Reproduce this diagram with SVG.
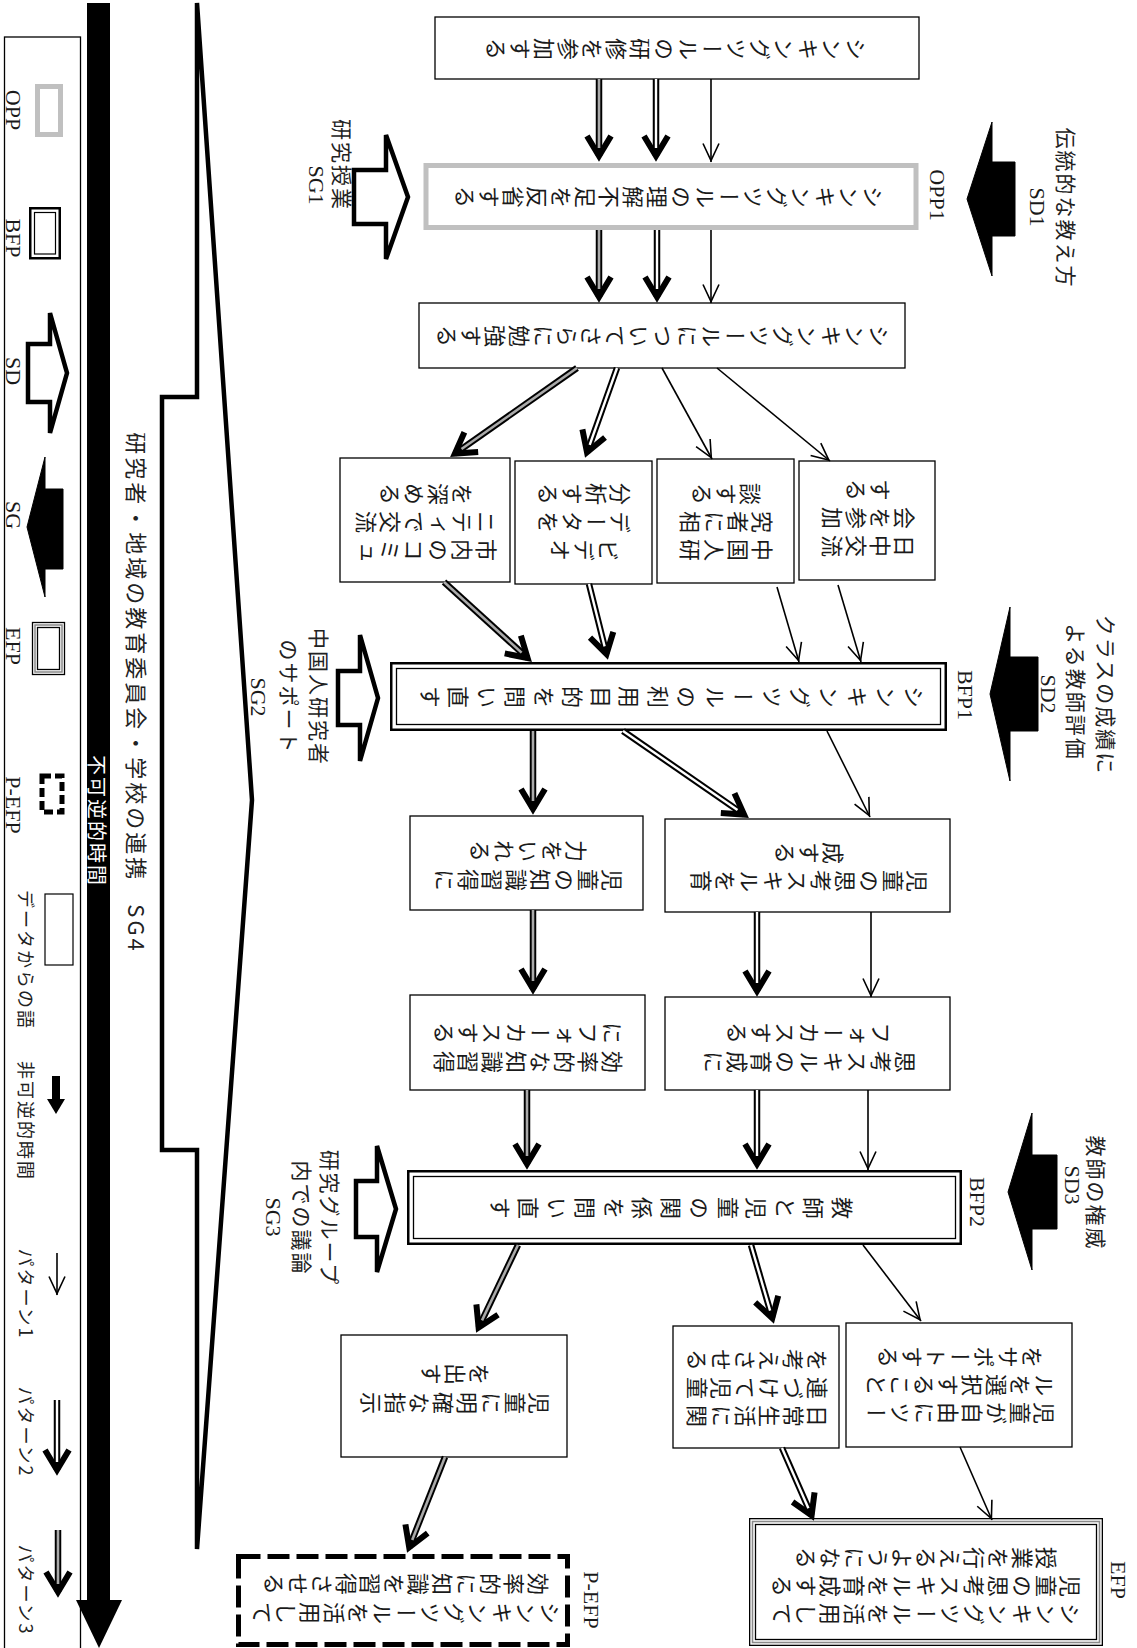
<svg xmlns="http://www.w3.org/2000/svg" width="1137" height="1648" viewBox="0 0 1137 1648">
<defs>
<style>
.bx{fill:#fff;stroke:#000;stroke-width:1.3}
.bt{font-family:"Noto Sans CJK JP",sans-serif;font-size:22px;writing-mode:vertical-rl;text-anchor:middle;fill:#1a1a1a;letter-spacing:2px}
.bw{letter-spacing:6.5px}
.lb{font-family:"Liberation Serif","Noto Sans CJK JP",serif;font-size:22px;text-anchor:middle;dominant-baseline:central;fill:#1a1a1a}
.lj{font-family:"Noto Sans CJK JP",sans-serif;font-size:21px;letter-spacing:2px;text-anchor:middle;dominant-baseline:central;fill:#222}
.lg{font-family:"Noto Sans CJK JP",sans-serif;font-size:18px;letter-spacing:2px;text-anchor:middle;dominant-baseline:central;fill:#222}
.p1{stroke:#000;stroke-width:1.6;fill:none;marker-end:url(#m1)}
.k{stroke:#000;stroke-width:6.5;fill:none;marker-end:url(#m2)}
.w{stroke:#fff;stroke-width:2.4;fill:none}
.g{stroke:#aaa;stroke-width:2.6;fill:none}
.sd{fill:#000;stroke:#000;stroke-width:1}
.sg{fill:#fff;stroke:#000;stroke-width:4.5;stroke-linejoin:miter}
.nb{fill:none;stroke:#000}
</style>
<marker id="m1" markerUnits="userSpaceOnUse" markerWidth="40" markerHeight="40" refX="1.5" refY="0" orient="auto" overflow="visible"><path d="M-17,-8 L0,0 L-17,8" fill="none" stroke="#000" stroke-width="1.6"/></marker>
<marker id="m2" markerUnits="userSpaceOnUse" markerWidth="40" markerHeight="40" refX="0" refY="0" orient="auto" overflow="visible"><path d="M-20,-12 L0,0 L-20,12" fill="none" stroke="#000" stroke-width="6"/></marker>
</defs>
<rect width="1137" height="1648" fill="#fff"/>

<!-- legend -->
<g id="legend">
<rect x="4.5" y="37" width="76" height="1620" class="nb" stroke-width="1.3"/>
<rect x="37.5" y="86.5" width="23" height="48" fill="none" stroke="#c0c0c0" stroke-width="5"/>
<text class="lb" transform="translate(13,110) rotate(90)">OPP</text>
<rect x="30.25" y="208.25" width="29.5" height="50" class="nb" stroke-width="2.5"/>
<rect x="34.5" y="212.5" width="21" height="41.5" class="nb" stroke-width="1.2"/>
<text class="lb" transform="translate(13,238) rotate(90)">BFP</text>
<polygon class="sg" stroke-width="4" points="28,344 50,344 50,313 67,373 50,433 50,402 28,402"/>
<text class="lb" transform="translate(13,371) rotate(90)">SD</text>
<polygon class="sd" points="27,527 45,457 45,489 63,489 63,569 45,569 45,597"/>
<text class="lb" transform="translate(13,515) rotate(90)">SG</text>
<rect x="32.5" y="622.5" width="32" height="52" class="nb" stroke-width="1.3"/>
<rect x="35" y="625" width="27" height="47" fill="none" stroke="#888" stroke-width="1.5"/>
<rect x="37.5" y="627.5" width="22" height="42" class="nb" stroke-width="1.3"/>
<text class="lb" transform="translate(13,646) rotate(90)">EFP</text>
<rect x="42" y="776" width="20" height="36" class="nb" stroke-width="5" stroke-dasharray="9,4"/>
<text class="lb" transform="translate(13,805) rotate(90)">P-EFP</text>
<rect x="45" y="894" width="28" height="71" class="nb" stroke-width="1.2"/>
<text class="lg" transform="translate(27,960) rotate(90)">データからの語</text>
<rect x="52" y="1076" width="8" height="24" fill="#000"/>
<polygon points="47,1099 65,1099 56,1114" fill="#000"/>
<text class="lg" transform="translate(27,1121) rotate(90)">非可逆的時間</text>
<line class="p1" x1="57" y1="1253" x2="57" y2="1295"/>
<text class="lg" transform="translate(27,1294) rotate(90)">パターン1</text>
<line class="k" x1="57" y1="1400" x2="57" y2="1470"/>
<line class="w" x1="57" y1="1400" x2="57" y2="1462"/>
<text class="lg" transform="translate(27,1432) rotate(90)">パターン2</text>
<line class="k" x1="58" y1="1530" x2="58" y2="1592"/>
<line class="g" x1="58" y1="1530" x2="58" y2="1584"/>
<text class="lg" transform="translate(27,1590) rotate(90)">パターン3</text>
</g>

<!-- time bar -->
<g id="timebar">
<rect x="87" y="3" width="23" height="1599" fill="#000"/>
<polygon points="76,1600 122,1600 99,1648" fill="#000"/>
<text class="lg" style="fill:#fff;font-size:20px" transform="translate(97,821) rotate(90)">不可逆的時間</text>
</g>

<!-- SG4 wedge -->
<g id="sg4">
<polygon points="197,3 252,800 197,1549 197,1150 162,1150 162,397 197,397" fill="none" stroke="#000" stroke-width="4.5" stroke-linejoin="miter"/>
<text class="lj" style="font-size:22px;letter-spacing:3px" transform="translate(138,693) rotate(90)">研究者・地域の教育委員会・学校の連携<tspan dx="22">SG4</tspan></text>
</g>

<!-- nodes -->
<g id="n1"><rect class="bx" x="435" y="17" width="484" height="62"/>
<text class="bt" transform="translate(675,49) rotate(90)">シンキングツールの研修を参加する</text></g>

<g id="opp1"><rect x="426" y="165.5" width="490" height="62" fill="#fff" stroke="#c0c0c0" stroke-width="5"/>
<text class="bt" transform="translate(668,197) rotate(90)">シンキングツールの理解不足を反省する</text>
<text class="lb" transform="translate(937,195) rotate(90)">OPP1</text></g>

<g id="n3"><rect class="bx" x="419" y="303" width="486" height="65"/>
<text class="bt" transform="translate(662,336) rotate(90)">シンキングツールについてさらに勉強する</text></g>

<g id="n4a"><rect class="bx" x="340" y="458" width="170" height="124"/>
<text class="bt" transform="translate(425,550) rotate(90)">市内のコミュ</text>
<text class="bt" transform="translate(425,522) rotate(90)">ニティで交流</text>
<text class="bt" transform="translate(425,494) rotate(90)">を深める</text></g>

<g id="n4b"><rect class="bx" x="515" y="461" width="137" height="123"/>
<text class="bt" transform="translate(583,550) rotate(90)">ビデオ</text>
<text class="bt" transform="translate(583,522) rotate(90)">データを</text>
<text class="bt" transform="translate(583,494) rotate(90)">分析する</text></g>

<g id="n4c"><rect class="bx" x="657" y="459" width="137" height="124"/>
<text class="bt" transform="translate(725,550) rotate(90)">中国人研</text>
<text class="bt" transform="translate(725,522) rotate(90)">究者に相</text>
<text class="bt" transform="translate(725,494) rotate(90)">談する</text></g>

<g id="n4d"><rect class="bx" x="799" y="461" width="136" height="119"/>
<text class="bt" transform="translate(867,546) rotate(90)">日中交流</text>
<text class="bt" transform="translate(867,518) rotate(90)">会を参加</text>
<text class="bt" transform="translate(867,490) rotate(90)">する</text></g>

<g id="bfp1"><rect x="391.25" y="663.25" width="554.5" height="66.5" fill="#fff" stroke="#000" stroke-width="2.5"/>
<rect x="396.5" y="668.5" width="544" height="56" class="nb" stroke-width="1.3"/>
<text class="bt bw" transform="translate(669,697) rotate(90)">シンキングツールの利用目的を問い直す</text>
<text class="lb" transform="translate(965,695) rotate(90)">BFP1</text></g>

<g id="n6a"><rect class="bx" x="410" y="816" width="233" height="94"/>
<text class="bt" transform="translate(527,880) rotate(90)">児童の知識習得に</text>
<text class="bt" transform="translate(527,851) rotate(90)">力をいれる</text></g>

<g id="n6b"><rect class="bx" x="665" y="819" width="285" height="93"/>
<text class="bt" transform="translate(808,881) rotate(90)">児童の思考スキルを育</text>
<text class="bt" transform="translate(808,853) rotate(90)">成する</text></g>

<g id="n7a"><rect class="bx" x="410" y="995" width="235" height="95"/>
<text class="bt" transform="translate(527,1062) rotate(90)">効率的な知識習得</text>
<text class="bt" transform="translate(527,1033) rotate(90)">にフォーカスする</text></g>

<g id="n7b"><rect class="bx" x="665" y="997" width="285" height="93"/>
<text class="bt" transform="translate(808,1062) rotate(90)">思考スキルの育成に</text>
<text class="bt" transform="translate(808,1033) rotate(90)">フォーカスする</text></g>

<g id="bfp2"><rect x="408.25" y="1171.25" width="552.5" height="72.5" fill="#fff" stroke="#000" stroke-width="2.5"/>
<rect x="413.5" y="1176.5" width="542" height="62" class="nb" stroke-width="1.3"/>
<text class="bt bw" transform="translate(668,1208) rotate(90)">教師と児童の関係を問い直す</text>
<text class="lb" transform="translate(977,1202) rotate(90)">BFP2</text></g>

<g id="n9a"><rect class="bx" x="341" y="1335" width="226" height="122"/>
<text class="bt" transform="translate(454,1403) rotate(90)">児童に明確な指示</text>
<text class="bt" transform="translate(454,1374) rotate(90)">を出す</text></g>

<g id="n9b"><rect class="bx" x="673" y="1326" width="166" height="122"/>
<text class="bt" transform="translate(756,1416) rotate(90)">日常生活に関</text>
<text class="bt" transform="translate(756,1388) rotate(90)">連づけて児童</text>
<text class="bt" transform="translate(756,1360) rotate(90)">を考えさせる</text></g>

<g id="n9c"><rect class="bx" x="846" y="1323" width="226" height="124"/>
<text class="bt" transform="translate(959,1413) rotate(90)">児童が自由にツー</text>
<text class="bt" transform="translate(959,1385) rotate(90)">ルを選択すること</text>
<text class="bt" transform="translate(959,1357) rotate(90)">をサポートする</text></g>

<g id="pefp"><rect x="238.5" y="1556.5" width="329" height="88" fill="#fff" stroke="#000" stroke-width="5" stroke-dasharray="22,7"/>
<text class="bt" transform="translate(405,1613) rotate(90)">シンキングツールを活用して</text>
<text class="bt" transform="translate(405,1584) rotate(90)">効率的に知識を習得させる</text>
<text class="lb" transform="translate(591,1600) rotate(90)">P-EFP</text></g>

<g id="efp"><rect x="749.65" y="1518.65" width="352.7" height="126.7" fill="#fff" stroke="#000" stroke-width="1.3"/>
<rect x="752.5" y="1521.5" width="347" height="121" fill="none" stroke="#8a8a8a" stroke-width="1.6"/>
<rect x="755.5" y="1524.5" width="341" height="115" class="nb" stroke-width="1.3"/>
<text class="bt" transform="translate(925,1614) rotate(90)">シンキングツールを活用して</text>
<text class="bt" transform="translate(925,1586) rotate(90)">児童の思考スキルを育成する</text>
<text class="bt" transform="translate(925,1558) rotate(90)">授業を行えるようになる</text>
<text class="lb" transform="translate(1118,1580) rotate(90)">EFP</text></g>

<!-- SD / SG drivers -->
<g id="sd1"><polygon class="sd" points="967,199 992,122 992,162 1015,162 1015,236 992,236 992,276"/>
<text class="lb" transform="translate(1037,207) rotate(90)">SD1</text>
<text class="lj" transform="translate(1067,208) rotate(90)">伝統的な教え方</text></g>
<g id="sg1"><polygon class="sg" points="354,170 386,170 386,135 408,197 386,259 386,224 354,224"/>
<text class="lj" transform="translate(343,165) rotate(90)">研究授業</text>
<text class="lb" transform="translate(316,185) rotate(90)">SG1</text></g>
<g id="sd2"><polygon class="sd" points="990,694 1010,607 1010,657 1038,657 1038,731 1010,731 1010,781"/>
<text class="lb" transform="translate(1048,694) rotate(90)">SD2</text>
<text class="lj" transform="translate(1077,692) rotate(90)">よる教師評価</text>
<text class="lj" transform="translate(1107,695) rotate(90)">クラスの成績に</text></g>
<g id="sg2"><polygon class="sg" points="338,671 360,671 360,635 378,698 360,761 360,725 338,725"/>
<text class="lj" transform="translate(320,697) rotate(90)">中国人研究者</text>
<text class="lj" transform="translate(290,697) rotate(90)">のサポート</text>
<text class="lb" transform="translate(258,697) rotate(90)">SG2</text></g>
<g id="sd3"><polygon class="sd" points="1008,1192 1032,1113 1032,1155 1057,1155 1057,1229 1032,1229 1032,1270"/>
<text class="lb" transform="translate(1072,1185) rotate(90)">SD3</text>
<text class="lj" transform="translate(1097,1193) rotate(90)">教師の権威</text></g>
<g id="sg3"><polygon class="sg" points="356,1181 377,1181 377,1146 396,1209 377,1272 377,1237 356,1237"/>
<text class="lj" transform="translate(331,1218) rotate(90)">研究グループ</text>
<text class="lj" transform="translate(303,1218) rotate(90)">内での議論</text>
<text class="lb" transform="translate(273,1217) rotate(90)">SG3</text></g>

<!-- connectors -->
<g id="connectors">
<line class="k" x1="599" y1="79" x2="599" y2="156"/><line class="g" x1="599" y1="79" x2="599" y2="148"/>
<line class="k" x1="656" y1="79" x2="656" y2="156"/><line class="w" x1="656" y1="79" x2="656" y2="148"/>
<line class="p1" x1="711" y1="79" x2="711" y2="162"/>
<line class="k" x1="599" y1="230" x2="599" y2="297"/><line class="g" x1="599" y1="230" x2="599" y2="289"/>
<line class="k" x1="657" y1="230" x2="657" y2="297"/><line class="w" x1="657" y1="230" x2="657" y2="289"/>
<line class="p1" x1="711" y1="230" x2="711" y2="303"/>

<line class="k" x1="577" y1="368" x2="454.9" y2="453.6"/><line class="g" x1="577" y1="368" x2="461.5" y2="449"/>
<line class="k" x1="617" y1="368" x2="587" y2="452.3"/><line class="w" x1="617" y1="368" x2="589.7" y2="444.8"/>
<line class="p1" x1="662" y1="368" x2="712" y2="459"/>
<line class="p1" x1="717" y1="368" x2="830" y2="461"/>

<line class="k" x1="444" y1="582" x2="527.6" y2="658"/><line class="g" x1="444" y1="582" x2="521.6" y2="652.6"/>
<line class="k" x1="589" y1="584" x2="606.5" y2="654.2"/><line class="w" x1="589" y1="584" x2="604.6" y2="646.4"/>
<line class="p1" x1="777" y1="587" x2="799" y2="662"/>
<line class="p1" x1="838" y1="585" x2="861" y2="662"/>

<line class="k" x1="533" y1="731" x2="533" y2="809"/><line class="g" x1="533" y1="731" x2="533" y2="801"/>
<line class="k" x1="623" y1="731" x2="744.1" y2="814.6"/><line class="w" x1="623" y1="731" x2="737.5" y2="810"/>
<line class="p1" x1="827" y1="731" x2="870" y2="817"/>

<line class="k" x1="533" y1="910" x2="533" y2="989"/><line class="g" x1="533" y1="910" x2="533" y2="981"/>
<line class="k" x1="757" y1="912" x2="757" y2="991"/><line class="w" x1="757" y1="912" x2="757" y2="983"/>
<line class="p1" x1="871" y1="912" x2="871" y2="997"/>

<line class="k" x1="527" y1="1090" x2="527" y2="1164"/><line class="g" x1="527" y1="1090" x2="527" y2="1156"/>
<line class="k" x1="757" y1="1090" x2="757" y2="1164"/><line class="w" x1="757" y1="1090" x2="757" y2="1156"/>
<line class="p1" x1="868" y1="1090" x2="868" y2="1170"/>

<line class="k" x1="518" y1="1245" x2="478.6" y2="1327.6"/><line class="g" x1="518" y1="1245" x2="482" y2="1320.4"/>
<line class="k" x1="751" y1="1245" x2="772.3" y2="1318.2"/><line class="w" x1="751" y1="1245" x2="770.1" y2="1310.6"/>
<line class="p1" x1="863" y1="1245" x2="921" y2="1321"/>

<line class="k" x1="445" y1="1457" x2="409.2" y2="1547.4"/><line class="g" x1="445" y1="1457" x2="412.2" y2="1540"/>
<line class="k" x1="782" y1="1448" x2="811.6" y2="1515.5"/><line class="w" x1="782" y1="1448" x2="808.4" y2="1508.2"/>
<line class="p1" x1="960" y1="1447" x2="992" y2="1520"/>
</g>
</svg>
